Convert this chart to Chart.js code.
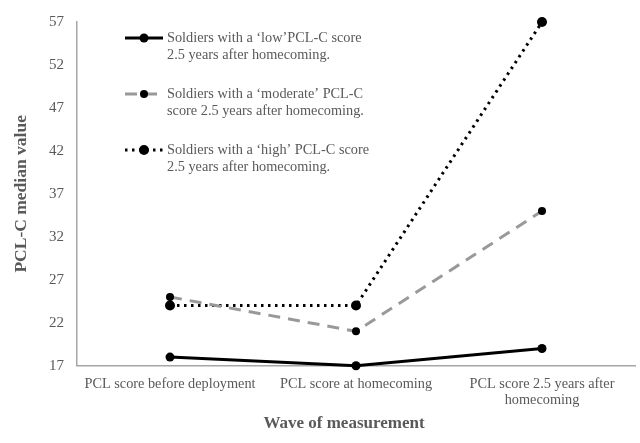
<!DOCTYPE html>
<html><head><meta charset="utf-8">
<script src="https://cdn.jsdelivr.net/npm/chart.js@4"></script>
<style>html,body{margin:0;padding:0;background:#fff}#wrap{width:640px;height:443px}</style>
</head><body><div id="wrap"><canvas id="c"></canvas></div>
<script>
const categories = [["PCL score before deployment"], ["PCL score at homecoming"], ["PCL score 2.5 years after", "homecoming"]];
const lowValues = [18, 17, 19];
const moderateValues = [25, 21, 35];
const highValues = [24, 24, 57];
const seriesLabels = [
  ["Soldiers with a \u2018low\u2019PCL-C score", "2.5 years after homecoming."],
  ["Soldiers with a \u2018moderate\u2019 PCL-C", "score 2.5 years after homecoming."],
  ["Soldiers with a \u2018high\u2019 PCL-C score", "2.5 years after homecoming."]
];
const yTitle = "PCL-C median value";
const xTitle = "Wave of measurement";

const FONT = "'Liberation Serif', 'Times New Roman', serif";
const TXT = "#595959";

const legendPlugin = {
  id: 'customLegend',
  afterDraw(chart) {
    const ctx = chart.ctx;
    const rows = [38, 94, 150];
    chart.data.datasets.forEach((ds, i) => {
      const y = rows[i];
      ctx.save();
      ctx.strokeStyle = ds.borderColor;
      ctx.lineWidth = ds.borderWidth;
      ctx.setLineDash(ds.borderDash || []);
      ctx.beginPath();
      ctx.moveTo(125, y); ctx.lineTo(163, y); ctx.stroke();
      ctx.setLineDash([]);
      ctx.fillStyle = '#000';
      ctx.beginPath(); ctx.arc(144, y, ds.pointRadius, 0, Math.PI * 2); ctx.fill();
      ctx.fillStyle = TXT;
      ctx.font = "14.3px " + FONT;
      ctx.textBaseline = 'middle';
      ds.label.forEach((t, j) => ctx.fillText(t, 167, y + j * 17));
      ctx.restore();
    });
    // x-axis title, slightly left of the plot centre as in the reference
    const a = chart.chartArea;
    ctx.save();
    ctx.fillStyle = TXT;
    ctx.font = "bold 17px " + FONT;
    ctx.textAlign = 'center';
    ctx.textBaseline = 'middle';
    ctx.fillText(xTitle, (a.left + a.right) / 2 - 12, chart.height - 19.5);
    ctx.restore();
  }
};

new Chart(document.getElementById('c'), {
  type: 'line',
  data: {
    labels: categories,
    datasets: [
      { label: seriesLabels[0], data: lowValues, borderColor: '#000', borderWidth: 3, pointRadius: 4.5, pointBackgroundColor: '#000', pointBorderWidth: 0, clip: false },
      { label: seriesLabels[1], data: moderateValues, borderColor: '#999999', borderWidth: 3, borderDash: [12, 8], pointRadius: 4, pointBackgroundColor: '#000', pointBorderWidth: 0, clip: false },
      { label: seriesLabels[2], data: highValues, borderColor: '#000', borderWidth: 3, borderDash: [2.5, 4.5], pointRadius: 5, pointBackgroundColor: '#000', pointBorderWidth: 0, clip: false }
    ]
  },
  options: {
    responsive: true, maintainAspectRatio: false, animation: false,
    layout: { padding: { top: 14, right: 1, left: 0, bottom: 24.4 } },
    plugins: { legend: { display: false }, tooltip: { enabled: false } },
    elements: { line: { tension: 0 } },
    scales: {
      x: {
        offset: true,
        grid: { display: false, drawTicks: false },
        border: { color: '#a6a6a6', width: 1.5 },
        ticks: { color: TXT, font: { family: FONT, size: 14.3, lineHeight: 1.15 }, padding: 10, maxRotation: 0 },
        title: { display: false }
      },
      y: {
        min: 17, max: 57,
        grid: { display: false, drawTicks: false },
        border: { color: '#a6a6a6', width: 1.5 },
        ticks: { stepSize: 5, color: TXT, font: { family: FONT, size: 15 }, padding: 13 },
        title: { display: true, text: yTitle, color: TXT, font: { family: FONT, size: 17.5, weight: 'bold' }, padding: { top: 11, bottom: 4 } }
      }
    }
  },
  plugins: [legendPlugin]
});
</script></body></html>
